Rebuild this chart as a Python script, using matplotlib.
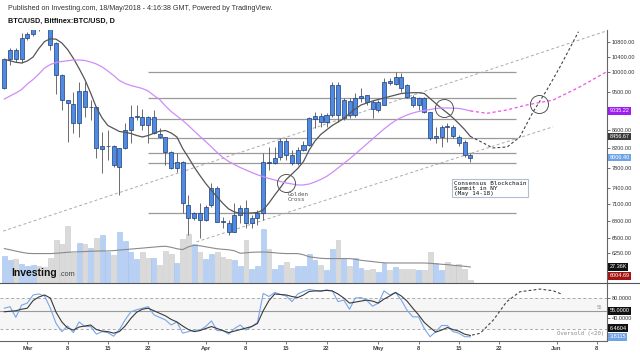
import numpy as np
import matplotlib.pyplot as plt
from matplotlib.ticker import NullLocator
from matplotlib.lines import Line2D

plt.rcParams['font.family'] = ['Liberation Sans', 'DejaVu Sans']

# BTC/USD Tageskerzen ab 25.02.2018 (Index 0)
opens = [9579, 10327, 10578, 10327, 10904, 11026, 11450, 11500, 11400, 10780,
         9915, 9293, 9200, 8762, 9520, 9119, 9133, 8179, 8240, 8249,
         7818, 8200, 8599, 8890, 8900, 8900, 8528, 8510, 8437, 8128,
         7786, 7920, 7080, 6840, 6929, 6810, 7080, 7393, 6790, 6763,
         6607, 6899, 7020, 6763, 6840, 6929, 7920, 7890, 8010, 8363,
         8059, 7900, 8164, 8271, 8847, 8923, 8785, 8939, 9661, 8863,
         9276, 8939, 9334, 9414, 9238, 9055, 9174, 9770, 9687, 9871,
         9661, 9373, 9174, 9334, 9016, 8415, 8450, 8680, 8659, 8450,
         8342, 8059]
highs = [10340, 10633, 10633, 11055, 11092, 11450, 11600, 11700, 11500, 10800,
         9950, 9300, 9495, 9744, 9744, 9293, 9140, 8560, 8599, 8260,
         8210, 8749, 9174, 9174, 9079, 8910, 9055, 8643, 8450, 8135,
         8101, 7930, 7266, 6950, 7117, 7080, 7495, 7440, 6869, 6810,
         7117, 7080, 7172, 6899, 6990, 8101, 8234, 8220, 8430, 8430,
         8164, 8230, 8360, 8900, 9016, 8980, 8980, 9744, 9744, 9340,
         9340, 9456, 9579, 9420, 9293, 9293, 9831, 9831, 10000, 9959,
         9687, 9414, 9373, 9373, 9020, 8672, 8710, 8749, 8710, 8480,
         8379, 8095]
lows = [9560, 10175, 10250, 10228, 10870, 10980, 11110, 11200, 10578, 9439,
        9055, 8342, 8532, 8444, 8900, 8824, 7997, 7692, 7955, 7818,
        7266, 8180, 8307, 8824, 8599, 8307, 8520, 8422, 7853, 7770,
        7718, 6935, 6551, 6810, 6500, 6800, 7043, 6770, 6665, 6551,
        6600, 6750, 6670, 6670, 6720, 6810, 7752, 7880, 7955, 7955,
        7853, 7853, 8140, 8250, 8640, 8672, 8672, 8900, 8785, 8824,
        8870, 8900, 9252, 9174, 8863, 9016, 9170, 9661, 9661, 9495,
        9334, 9133, 9055, 8980, 8379, 8307, 8234, 8342, 8415, 8250,
        8024, 7920]
closes = [10327, 10578, 10327, 10904, 11026, 11300, 11350, 11400, 10716, 9915,
          9293, 9214, 8762, 9520, 9119, 9133, 8200, 8249, 8249, 7853,
          8200, 8599, 8900, 8905, 8710, 8710, 8900, 8437, 8116, 7786,
          7920, 7111, 6840, 6929, 6810, 7049, 7393, 6780, 6775, 6607,
          6899, 7020, 6763, 6840, 6940, 7920, 7900, 8003, 8363, 8059,
          7900, 8164, 8271, 8863, 8923, 8785, 8939, 9661, 8939, 9293,
          8939, 9334, 9390, 9252, 9072, 9238, 9744, 9704, 9871, 9579,
          9373, 9174, 9334, 9016, 8415, 8466, 8672, 8665, 8466, 8320,
          8059, 8006.40]
volume_k = [45.4, 38.6, 41.5, 33.1, 29.1, 30.2, 28.6, 27.4, 43.2, 73.4,
            65.5, 95.8, 50.9, 67.7, 65.5, 60.0, 76.8, 80.6, 52.6, 47.0,
            86.2, 71.1, 52.6, 41.5, 52.6, 43.2, 43.2, 30.2, 54.3, 48.7,
            34.1, 75.1, 83.5, 66.7, 52.6, 41.5, 48.7, 52.6, 44.2, 41.5,
            39.8, 28.6, 73.4, 24.7, 28.6, 91.9, 58.3, 24.7, 31.4, 35.8,
            26.4, 28.6, 28.6, 49.9, 38.6, 30.2, 23.0, 58.3, 72.2, 41.5,
            28.6, 43.2, 26.4, 23.0, 24.7, 19.0, 34.8, 23.0, 27.4, 24.7,
            24.7, 24.7, 21.8, 23.0, 52.6, 34.8, 21.8, 35.8, 30.2, 31.9,
            24.7, 6.0]
vol_ma_k = [58.3, 56.3, 54.1, 52.1, 50.4, 49.9, 49.9, 49.9, 49.9, 50.4,
            51.2, 52.1, 52.6, 52.9, 53.3, 53.8, 54.1, 54.3, 54.3, 54.9,
            55.8, 56.6, 57.5, 58.3, 59.1, 60.0, 60.8, 61.7, 62.2, 60.5,
            58.0, 56.6, 61.3, 63.8, 63.0, 61.3, 59.6, 58.0, 57.1, 56.3,
            54.6, 50.4, 51.2, 52.1, 52.4, 52.6, 52.1, 51.2, 50.4, 49.9,
            49.9, 49.9, 47.9, 44.5, 43.2, 42.0, 41.5, 41.5, 41.5, 41.5,
            41.5, 40.3, 38.6, 37.5, 36.5, 35.3, 34.4, 34.1, 34.1, 34.1,
            34.1, 34.1, 34.1, 34.1, 33.6, 32.8, 31.9, 31.4, 30.2, 29.4,
            28.6, 27.36]
ma_fast = [10327, 10287, 10247, 10228, 10281, 10388, 10620, 10814, 10890, 10879,
           10772, 10592, 10353, 10083, 9800, 9463, 9114, 8870, 8699, 8632,
           8565, 8547, 8521, 8477, 8444, 8477, 8525, 8572, 8587, 8532,
           8444, 8196, 8007, 7812, 7642, 7486, 7351, 7228, 7108, 7007,
           6953, 6929, 6931, 6935, 6944, 6989, 7117, 7266, 7408, 7564,
           7672, 7782, 7924, 8164, 8357, 8499, 8599, 8699, 8778, 8858,
           8974, 9079, 9174, 9221, 9269, 9305, 9341, 9378, 9414, 9451,
           9463, 9471, 9471, 9451, 9329, 9209, 9091, 8985, 8870, 8744,
           8610, 8456.67]
ma_slow = [9317, 9390, 9463, 9549, 9687, 9800, 9941, 10096, 10188, 10241,
           10268, 10289, 10308, 10308, 10295, 10255, 10202, 10123, 10018, 9902,
           9775, 9699, 9649, 9612, 9574, 9512, 9402, 9305, 9150, 9020,
           8916, 8813, 8699, 8576, 8457, 8346, 8228, 8111, 8007, 7924,
           7863, 7802, 7752, 7702, 7656, 7619, 7583, 7554, 7524, 7495,
           7476, 7457, 7457, 7476, 7515, 7564, 7623, 7702, 7792, 7884,
           7976, 8080, 8185, 8292, 8400, 8510, 8621, 8722, 8813, 8881,
           8939, 8985, 9020, 9044, 9067, 9091, 9103, 9103, 9098, 9091,
           9067, 9035.22]
stoch_k = [60, 63, 42, 66, 70, 86, 88, 84, 60, 30, 14, 25, 12, 33, 24, 24, 9, 14, 12, 5,
           18, 37, 53, 57, 60, 63, 47, 42, 37, 27, 33, 11, 14, 17, 17, 24, 35, 16, 16, 9,
           20, 27, 17, 24, 32, 89, 83, 91, 87, 84, 73, 88, 93, 97, 95, 93, 96, 94, 73, 76,
           58, 80, 81, 75, 64, 70, 94, 86, 91, 76, 56, 43, 43, 20, 4, 14, 26, 26, 14, 11,
           4, 3.8115]
stoch_d = [53, 54, 55, 58, 60, 75, 82, 86, 80, 52, 33, 21, 17, 23, 25, 27, 18, 15, 14, 11,
           14, 25, 40, 52, 58, 60, 55, 50, 45, 38, 33, 25, 18, 14, 16, 20, 24, 20, 16, 12,
           15, 18, 21, 24, 30, 55, 75, 88, 87, 86, 83, 81, 86, 93, 94, 94, 95, 94, 88, 80,
           70, 72, 74, 76, 74, 70, 78, 84, 91, 84, 74, 60, 47, 32, 22, 13, 17, 22, 18, 15,
           9, 6.4604]

# Zeichnungen (Tag-Index, Preis)
levels = [10000, 9350, 8850, 8430, 8110, 7890, 6930]
trend_upper = ([-0.2, 104.8], [6617, 11121])
trend_lower = ([33.4, 95.4], [6435, 8671])
proj_price_x = [81, 83, 84.9, 87.4, 89.6, 91.9, 94.3, 96.6, 99.8]
proj_price_y = [8457, 8330, 8207, 8228, 8444, 9009, 9537, 10131, 11092]
proj_ma_x = [81, 83.9, 87.3, 90.8, 95.4, 100.1, 104.7]
proj_ma_y = [9035, 8978, 9055, 9174, 9293, 9619, 10000]
proj_stoch_x = [81.3, 82.7, 85.0, 87.3, 89.6, 93.1, 95.4, 96.9]
proj_stoch_y = [7.3, 10.6, 36.8, 72.6, 92.3, 97.6, 94.3, 87.6]
circles = [(49.0, 7500), (76.4, 9096), (93.0, 9197)]

price_ticks = [6250, 6500, 6800, 7100, 7400, 7800, 8200, 8600, 9500, 10000, 10400, 10800]
x_ticks = [4, 11, 18, 25, 35, 42, 49, 56, 65, 72, 79, 86, 96, 103]
x_labels = ['Mar', '8', '15', '22', 'Apr', '8', '15', '22', 'May', '8', '15', '22', 'Jun', '8']

opens = np.array(opens, float)
closes = np.array(closes, float)
day = np.arange(len(closes))

fig = plt.figure(figsize=(6.4, 3.53), dpi=100)
ax = fig.add_axes([0, 0.1975, 0.9484, 0.7175])
axv = ax.twinx()
ax.set_zorder(axv.get_zorder() + 1)
ax.patch.set_visible(False)

# Volumen
up = closes >= opens
axv.bar(day, volume_k, width=0.85, color=np.where(up, '#b7d0f3', '#dadada'),
        edgecolor=np.where(up, '#a3c1ee', '#c9c9c9'), lw=0.4)
axv.plot(day, vol_ma_k, color='#8a8a8a', lw=0.8)
axv.set_ylim(0, 425.5)
axv.set_yticks([])
for s in axv.spines.values():
    s.set_visible(False)

# Kerzen
ax.vlines(day, lows, highs, color='#555555', lw=0.6, zorder=3)
bot = np.minimum(opens, closes)
hgt = np.maximum(np.abs(closes - opens), 8)
ax.bar(day, hgt, bottom=bot, width=0.7, color='#4f8be3', edgecolor='#1d3c78',
       lw=0.5, zorder=4)

ax.plot(day, ma_fast, color='#555555', lw=0.9, zorder=5)
ax.plot(day, ma_slow, color='#cf8cf7', lw=0.9, zorder=5)
ax.plot(proj_price_x, proj_price_y, color='#444444', lw=0.8, ls=(0, (2.5, 2)), zorder=5)
ax.plot(proj_ma_x, proj_ma_y, color='#f050f0', lw=0.9, ls=(0, (2.5, 2)), zorder=5)
ax.hlines(levels, 24.9, 89.0, color='#9a9a9a', lw=0.9, zorder=2)
ax.plot(*trend_upper, color='#aaaaaa', lw=0.7, ls=(0, (3, 2.5)), zorder=2)
ax.plot(*trend_lower, color='#aaaaaa', lw=0.7, ls=(0, (3, 2.5)), zorder=2)
for cx, cy in circles:
    ax.plot(cx, cy, 'o', ms=13, mfc='none', mec='#555555', mew=0.7, zorder=6)

ax.text(49.2, 7330, 'Golden\nCross', family='DejaVu Sans Mono', fontsize=4.2,
        color='#555555', va='top', ha='left', linespacing=1.0, zorder=6)
ax.text(78.1, 7540, 'Consensus Blockchain\nSummit in NY\n(May 14-18)',
        family='DejaVu Sans Mono', fontsize=4.3, color='#111111', va='top', ha='left',
        linespacing=1.0, zorder=6,
        bbox=dict(boxstyle='square,pad=0.3', fc='white', ec='#aebfd2', lw=0.8))

ax.set_yscale('log')
ax.set_ylim(5780, 11141)
ax.set_xlim(-0.75, 104.75)
ax.yaxis.tick_right()
ax.set_yticks(price_ticks)
ax.set_yticklabels([f'{t:.2f}' for t in price_ticks])
ax.yaxis.set_minor_locator(NullLocator())
ax.tick_params(axis='y', labelsize=4, length=2, width=0.5, pad=1.5, colors='#333333')
ax.set_xticks([])
for k in ['left', 'top', 'bottom']:
    ax.spines[k].set_visible(False)
ax.spines['right'].set_color('#666666')
ax.spines['right'].set_linewidth(0.8)

tr = ax.get_yaxis_transform()
for val, txt, col in [(9035.22, '9035.22', '#9d1ef0'), (8456.67, '8456.67', '#3a3a3a'),
                      (8006.40, '8006.40', '#6fa3e6')]:
    ax.text(1.004, val, txt, transform=tr, fontsize=4, color='white', va='center',
            ha='left', clip_on=False,
            bbox=dict(boxstyle='square,pad=0.25', fc=col, ec='none'))
trv = axv.get_yaxis_transform()
axv.text(1.004, 27.36, '27.36K', transform=trv, fontsize=4, color='white', va='center',
         ha='left', clip_on=False, bbox=dict(boxstyle='square,pad=0.25', fc='#111111', ec='none'))
axv.text(1.004, 12.3, '6004.69', transform=trv, fontsize=4, color='white', va='center',
         ha='left', clip_on=False, bbox=dict(boxstyle='square,pad=0.25', fc='#a31515', ec='none'))

# Stochastik
axs = fig.add_axes([0, 0.0348, 0.9484, 0.1627])
axs.axhspan(20, 80, color='#f6f6f6', lw=0)
axs.axhline(80, color='#aaaaaa', lw=0.7, ls=(0, (3, 2.5)))
axs.axhline(20, color='#aaaaaa', lw=0.7, ls=(0, (3, 2.5)))
axs.axhline(55, color='#999999', lw=0.8)
axs.plot(day, stoch_k, color='#78a6ea', lw=0.8)
axs.plot(day, stoch_d, color='#3a3a3a', lw=0.8)
axs.plot(proj_stoch_x, proj_stoch_y, color='#444444', lw=0.8, ls=(0, (2.5, 2)))
axs.set_xlim(-0.75, 104.75)
axs.set_ylim(-3.9, 109)
axs.yaxis.tick_right()
axs.set_yticks([40, 80])
axs.set_yticklabels(['40.0000', '80.0000'])
axs.tick_params(axis='y', labelsize=4, length=2, width=0.5, pad=1.5, colors='#333333')
axs.set_xticks(x_ticks)
axs.set_xticklabels(x_labels, fontweight='bold')
axs.tick_params(axis='x', labelsize=4.2, length=2, width=0.5, pad=1.5, colors='#444444')
for k in ['left', 'top']:
    axs.spines[k].set_visible(False)
for k in ['right', 'bottom']:
    axs.spines[k].set_color('#666666')
    axs.spines[k].set_linewidth(0.8)
axs.text(103.9, 57, '55', fontsize=3.5, color='#999999', ha='right', va='bottom')
axs.text(104.2, 11.2, 'Oversold (<20)', family='DejaVu Sans Mono', fontsize=4.1,
         color='#888888', ha='right', va='center')
trs = axs.get_yaxis_transform()
for val, txt, col in [(55, '55.0000', '#111111'), (21, '6.4604', '#111111'),
                      (3.8115, '3.8115', '#6fa3e6')]:
    axs.text(1.004, val, txt, transform=trs, fontsize=4, color='white', va='center',
             ha='left', clip_on=False,
             bbox=dict(boxstyle='square,pad=0.25', fc=col, ec='none'))

fig.add_artist(Line2D([0, 1], [0.1975, 0.1975], color='#555555', lw=0.8))

fig.text(8 / 640, 1 - 8 / 353, 'Published on Investing.com, 18/May/2018 - 4:16:38 GMT, Powered by TradingView.',
         fontsize=5.15, color='#333333', va='center', ha='left')
fig.text(8 / 640, 1 - 21 / 353, 'BTC/USD, Bitfinex:BTC/USD, D', fontsize=5.2,
         fontweight='bold', color='#111111', va='center', ha='left')
fig.text(11.5 / 640, 1 - 276 / 353, 'Investing', fontsize=7.5, fontweight='bold',
         color='#111111', va='baseline', ha='left')
fig.text(59.5 / 640, 1 - 276 / 353, '.com', fontsize=5.2, color='#444444',
         va='baseline', ha='left')

fig.savefig('out.png', dpi=100)
